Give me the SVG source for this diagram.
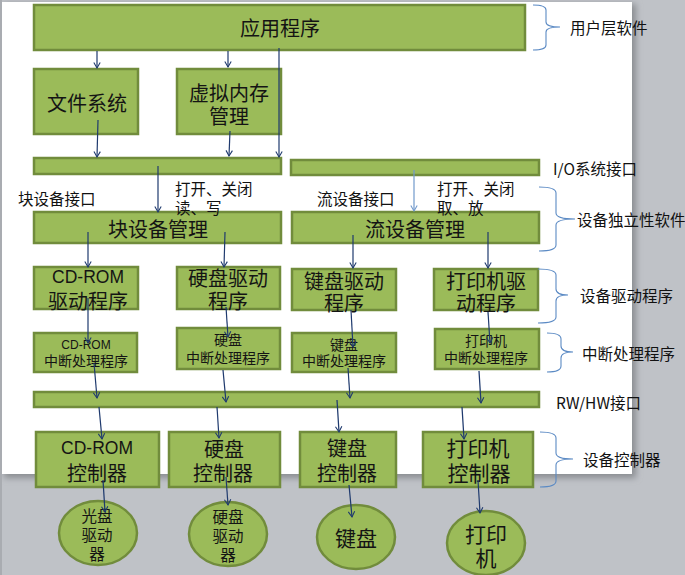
<svg xmlns="http://www.w3.org/2000/svg" width="685" height="575" viewBox="0 0 685 575">
<defs>
<marker id="ah" markerWidth="8" markerHeight="8" refX="6" refY="4" orient="auto" markerUnits="userSpaceOnUse">
<path d="M0.5,0.8 L6,4 L0.5,7.2" fill="none" stroke="#1f3a6e" stroke-width="1.1"/>
</marker>
<marker id="ahl" markerWidth="8" markerHeight="8" refX="6" refY="4" orient="auto" markerUnits="userSpaceOnUse">
<path d="M0.5,0.8 L6,4 L0.5,7.2" fill="none" stroke="#7199cc" stroke-width="1.1"/>
</marker>
<filter id="sh" x="-5%" y="-5%" width="115%" height="115%">
<feGaussianBlur stdDeviation="3"/>
</filter>
</defs>
<style>
.b{fill:#9bbb59;stroke:#718c3c;stroke-width:2.5}
.t{font-family:"Noto Sans CJK SC","Liberation Sans",sans-serif;fill:#141414;text-anchor:middle;dominant-baseline:central}
.l{font-family:"Liberation Sans","Noto Sans CJK SC",sans-serif}
.s{font-family:"Noto Sans CJK SC","Liberation Sans",sans-serif;fill:#111;dominant-baseline:central;font-size:15.5px}
.a{stroke:#1f3a6e;stroke-width:1.2;fill:none;marker-end:url(#ah)}
.br{stroke:#5b8ac4;stroke-width:1.1;fill:none}
</style>
<rect x="0" y="0" width="685" height="575" fill="#bfc2c7"/>
<rect x="4" y="4" width="632" height="474" fill="#8a8d92" filter="url(#sh)"/>
<rect x="0" y="0" width="2" height="575" fill="#a9acb1"/>
<rect x="2" y="2" width="630" height="472" fill="#ffffff"/>

<g id="app"><rect class="b" x="34" y="5" width="491" height="45"/><text class="t" x="280" y="27" font-size="20">应用程序</text></g>
<g id="fs"><rect class="b" x="34" y="69" width="104" height="65"/><text class="t" x="87" y="102" font-size="20">文件系统</text></g>
<g id="vm"><rect class="b" x="177" y="69" width="104" height="65"/><text class="t" font-size="20"><tspan x="229" y="92">虚拟内存</tspan><tspan x="229" y="115">管理</tspan></text></g>
<g id="bar1"><rect class="b" x="34" y="158" width="247" height="16"/></g>
<g id="bar2"><rect class="b" x="291" y="160" width="248" height="15"/></g>
<g id="blk"><rect class="b" x="34" y="212" width="247" height="31"/><text class="t" x="158" y="228" font-size="20">块设备管理</text></g>
<g id="str"><rect class="b" x="292" y="212" width="247" height="31"/><text class="t" x="415" y="228" font-size="20">流设备管理</text></g>

<g id="d1"><rect class="b" x="34" y="267" width="104" height="42"/><text class="t" font-size="20"><tspan class="l" x="88" y="277" font-size="17.5">CD-ROM</tspan><tspan x="88" y="300">驱动程序</tspan></text></g>
<g id="d2"><rect class="b" x="177" y="267" width="103" height="42"/><text class="t" font-size="20"><tspan x="228" y="277">硬盘驱动</tspan><tspan x="228" y="300">程序</tspan></text></g>
<g id="d3"><rect class="b" x="292" y="269" width="104" height="41"/><text class="t" font-size="20"><tspan x="344" y="280">键盘驱动</tspan><tspan x="344" y="302">程序</tspan></text></g>
<g id="d4"><rect class="b" x="434" y="269" width="104" height="41"/><text class="t" font-size="20"><tspan x="486" y="280">打印机驱</tspan><tspan x="486" y="302">动程序</tspan></text></g>

<g id="i1"><rect class="b" x="34" y="333" width="103" height="39"/><text class="t" font-size="14"><tspan class="l" x="86" y="345" font-size="12">CD-ROM</tspan><tspan x="86" y="360">中断处理程序</tspan></text></g>
<g id="i2"><rect class="b" x="177" y="328" width="103" height="41"/><text class="t" font-size="14"><tspan x="228" y="339">硬盘</tspan><tspan x="228" y="357">中断处理程序</tspan></text></g>
<g id="i3"><rect class="b" x="292" y="333" width="104" height="39"/><text class="t" font-size="14"><tspan x="344" y="344">键盘</tspan><tspan x="344" y="360">中断处理程序</tspan></text></g>
<g id="i4"><rect class="b" x="435" y="329" width="104" height="40"/><text class="t" font-size="14"><tspan x="486" y="340">打印机</tspan><tspan x="486" y="357">中断处理程序</tspan></text></g>

<g id="bar3"><rect class="b" x="34" y="392" width="505" height="15"/></g>

<g id="c1"><rect class="b" x="36" y="432" width="123" height="55"/><text class="t" font-size="20"><tspan class="l" x="97" y="448" font-size="17.5">CD-ROM</tspan><tspan x="97" y="472">控制器</tspan></text></g>
<g id="c2"><rect class="b" x="169" y="432" width="111" height="55"/><text class="t" font-size="20"><tspan x="224" y="448">硬盘</tspan><tspan x="223" y="472">控制器</tspan></text></g>
<g id="c3"><rect class="b" x="300" y="432" width="96" height="55"/><text class="t" font-size="20"><tspan x="347" y="447">键盘</tspan><tspan x="347" y="472">控制器</tspan></text></g>
<g id="c4"><rect class="b" x="423" y="432" width="110" height="55"/><text class="t" font-size="21"><tspan x="478" y="447">打印机</tspan><tspan x="479" y="472">控制器</tspan></text></g>

<g id="e1"><ellipse class="b" cx="98" cy="533" rx="39" ry="32"/><text class="t" font-size="15.5"><tspan x="97" y="515">光盘</tspan><tspan x="97" y="534">驱动</tspan><tspan x="97" y="553">器</tspan></text></g>
<g id="e2"><ellipse class="b" cx="228" cy="534" rx="39" ry="32"/><text class="t" font-size="15.5"><tspan x="228" y="516">硬盘</tspan><tspan x="228" y="535">驱动</tspan><tspan x="228" y="554">器</tspan></text></g>
<g id="e3"><ellipse class="b" cx="356" cy="537" rx="39" ry="32"/><text class="t" x="356" y="537" font-size="21">键盘</text></g>
<g id="e4"><ellipse class="b" cx="486" cy="543" rx="39" ry="32"/><text class="t" font-size="21"><tspan x="486" y="533">打印</tspan><tspan x="486" y="557">机</tspan></text></g>

<g id="labels">
<text class="s" x="18" y="198">块设备接口</text>
<text class="s"><tspan x="175" y="188">打开、关闭</tspan><tspan x="175" y="207">读、写</tspan></text>
<text class="s" x="317" y="198">流设备接口</text>
<text class="s"><tspan x="437" y="188">打开、关闭</tspan><tspan x="437" y="207">取、放</tspan></text>
<text class="s" x="570" y="27">用户层软件</text>
<text class="s" x="553" y="168">I/O系统接口</text>
<text class="s" x="577" y="219">设备独立性软件</text>
<text class="s" x="580" y="295">设备驱动程序</text>
<text class="s" x="582" y="353">中断处理程序</text>
<text class="s" x="556" y="402">RW/HW接口</text>
<text class="s" x="583" y="459">设备控制器</text>
</g>

<g id="braces">
<path class="br" d="M533,5 Q546,5 546,10 L546,22 Q546,27 560,27 Q546,27 546,32 L546,45 Q546,50 533,50"/>
<path class="br" d="M539,187 Q556,187 556,193 L556,213 Q556,219 575,219 Q556,219 556,225 L556,245 Q556,251 539,251"/>
<path class="br" d="M538,269 Q556,269 556,275 L556,289 Q556,295 568,295 Q556,295 556,301 L556,317 Q556,323 538,323"/>
<path class="br" d="M547,333 Q561,333 561,339 L561,346 Q561,352 573,352 Q561,352 561,358 L561,366 Q561,372 547,372"/>
<path class="br" d="M540,432 Q556,432 556,438 L556,453 Q556,459 573,459 Q556,459 556,465 L556,481 Q556,487 540,487"/>
</g>

<g id="connectors">
<line class="a" x1="97" y1="51" x2="97" y2="68"/>
<line class="a" x1="228" y1="51" x2="228" y2="67"/>
<line class="a" x1="279" y1="48" x2="279" y2="157"/>
<line class="a" x1="98" y1="120" x2="97" y2="157"/>
<line class="a" x1="230" y1="131" x2="229" y2="156"/>
<line class="a" x1="158" y1="166" x2="158" y2="212"/>
<line x1="414" y1="170" x2="414" y2="211" stroke="#7199cc" stroke-width="1.2" marker-end="url(#ahl)"/>
<line class="a" x1="88" y1="232" x2="88" y2="267"/>
<line class="a" x1="225" y1="232" x2="224" y2="267"/>
<line class="a" x1="353" y1="235" x2="353" y2="268"/>
<line class="a" x1="488" y1="232" x2="488" y2="268"/>
<line class="a" x1="88" y1="298" x2="88" y2="343"/>
<line class="a" x1="94" y1="363" x2="97" y2="398"/>
<line class="a" x1="99" y1="407" x2="102" y2="439"/>
<line class="a" x1="103" y1="480" x2="105" y2="512"/>
<line class="a" x1="226" y1="307" x2="228" y2="337"/>
<line class="a" x1="223" y1="370" x2="226" y2="402"/>
<line class="a" x1="217" y1="407" x2="219" y2="438"/>
<line class="a" x1="226" y1="477" x2="228" y2="505"/>
<line class="a" x1="351" y1="310" x2="353" y2="347"/>
<line class="a" x1="348" y1="368" x2="350" y2="398"/>
<line class="a" x1="337" y1="400" x2="339" y2="432"/>
<line class="a" x1="349" y1="485" x2="352" y2="517"/>
<line class="a" x1="488" y1="312" x2="490" y2="343"/>
<line class="a" x1="479" y1="371" x2="481" y2="403"/>
<line class="a" x1="462" y1="407" x2="464" y2="439"/>
<line class="a" x1="478" y1="480" x2="480" y2="513"/>
</g>
</svg>
